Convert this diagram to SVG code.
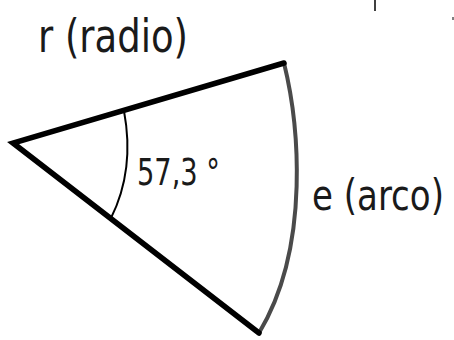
<svg xmlns="http://www.w3.org/2000/svg" width="454" height="340" viewBox="0 0 454 340">
<style>
.lbl{font-family:"DejaVu Sans Condensed","DejaVu Sans","Liberation Sans",sans-serif;fill:#1a1a1a}
.radius{stroke:#000;stroke-width:5.5;fill:none;stroke-linejoin:miter;stroke-linecap:round}
.arc{stroke:#4a4a4a;stroke-width:4;fill:none}
.ang{stroke:#000;stroke-width:2;fill:none}
</style>
<rect width="454" height="340" fill="#fff"/>
<g id="connectors">
<path id="arc-e" class="arc" d="M284,63 C298,120 312,245 259,333"/>
<path id="radii" class="radius" d="M284,63 L13,143 L259,333"/>
<path id="angle" class="ang" d="M124,111 Q135,170 111,218"/>
</g>
<g id="label-r"><text class="lbl" x="38" y="52" font-size="46" textLength="150" lengthAdjust="spacingAndGlyphs">r (radio)</text></g>
<g id="label-angle"><text class="lbl" x="137" y="185" font-size="37" textLength="83" lengthAdjust="spacingAndGlyphs">57,3 °</text></g>
<g id="label-e"><text class="lbl" transform="translate(312,210) scale(0.874,1)" x="0" y="0" font-size="43" textLength="151" lengthAdjust="spacingAndGlyphs">e (arco)</text></g>
<g id="marks">
<line x1="375" y1="0" x2="375" y2="11" stroke="#000" stroke-width="1.5"/>
<line x1="453" y1="17" x2="453" y2="20" stroke="#000" stroke-width="1"/>
</g>
</svg>
